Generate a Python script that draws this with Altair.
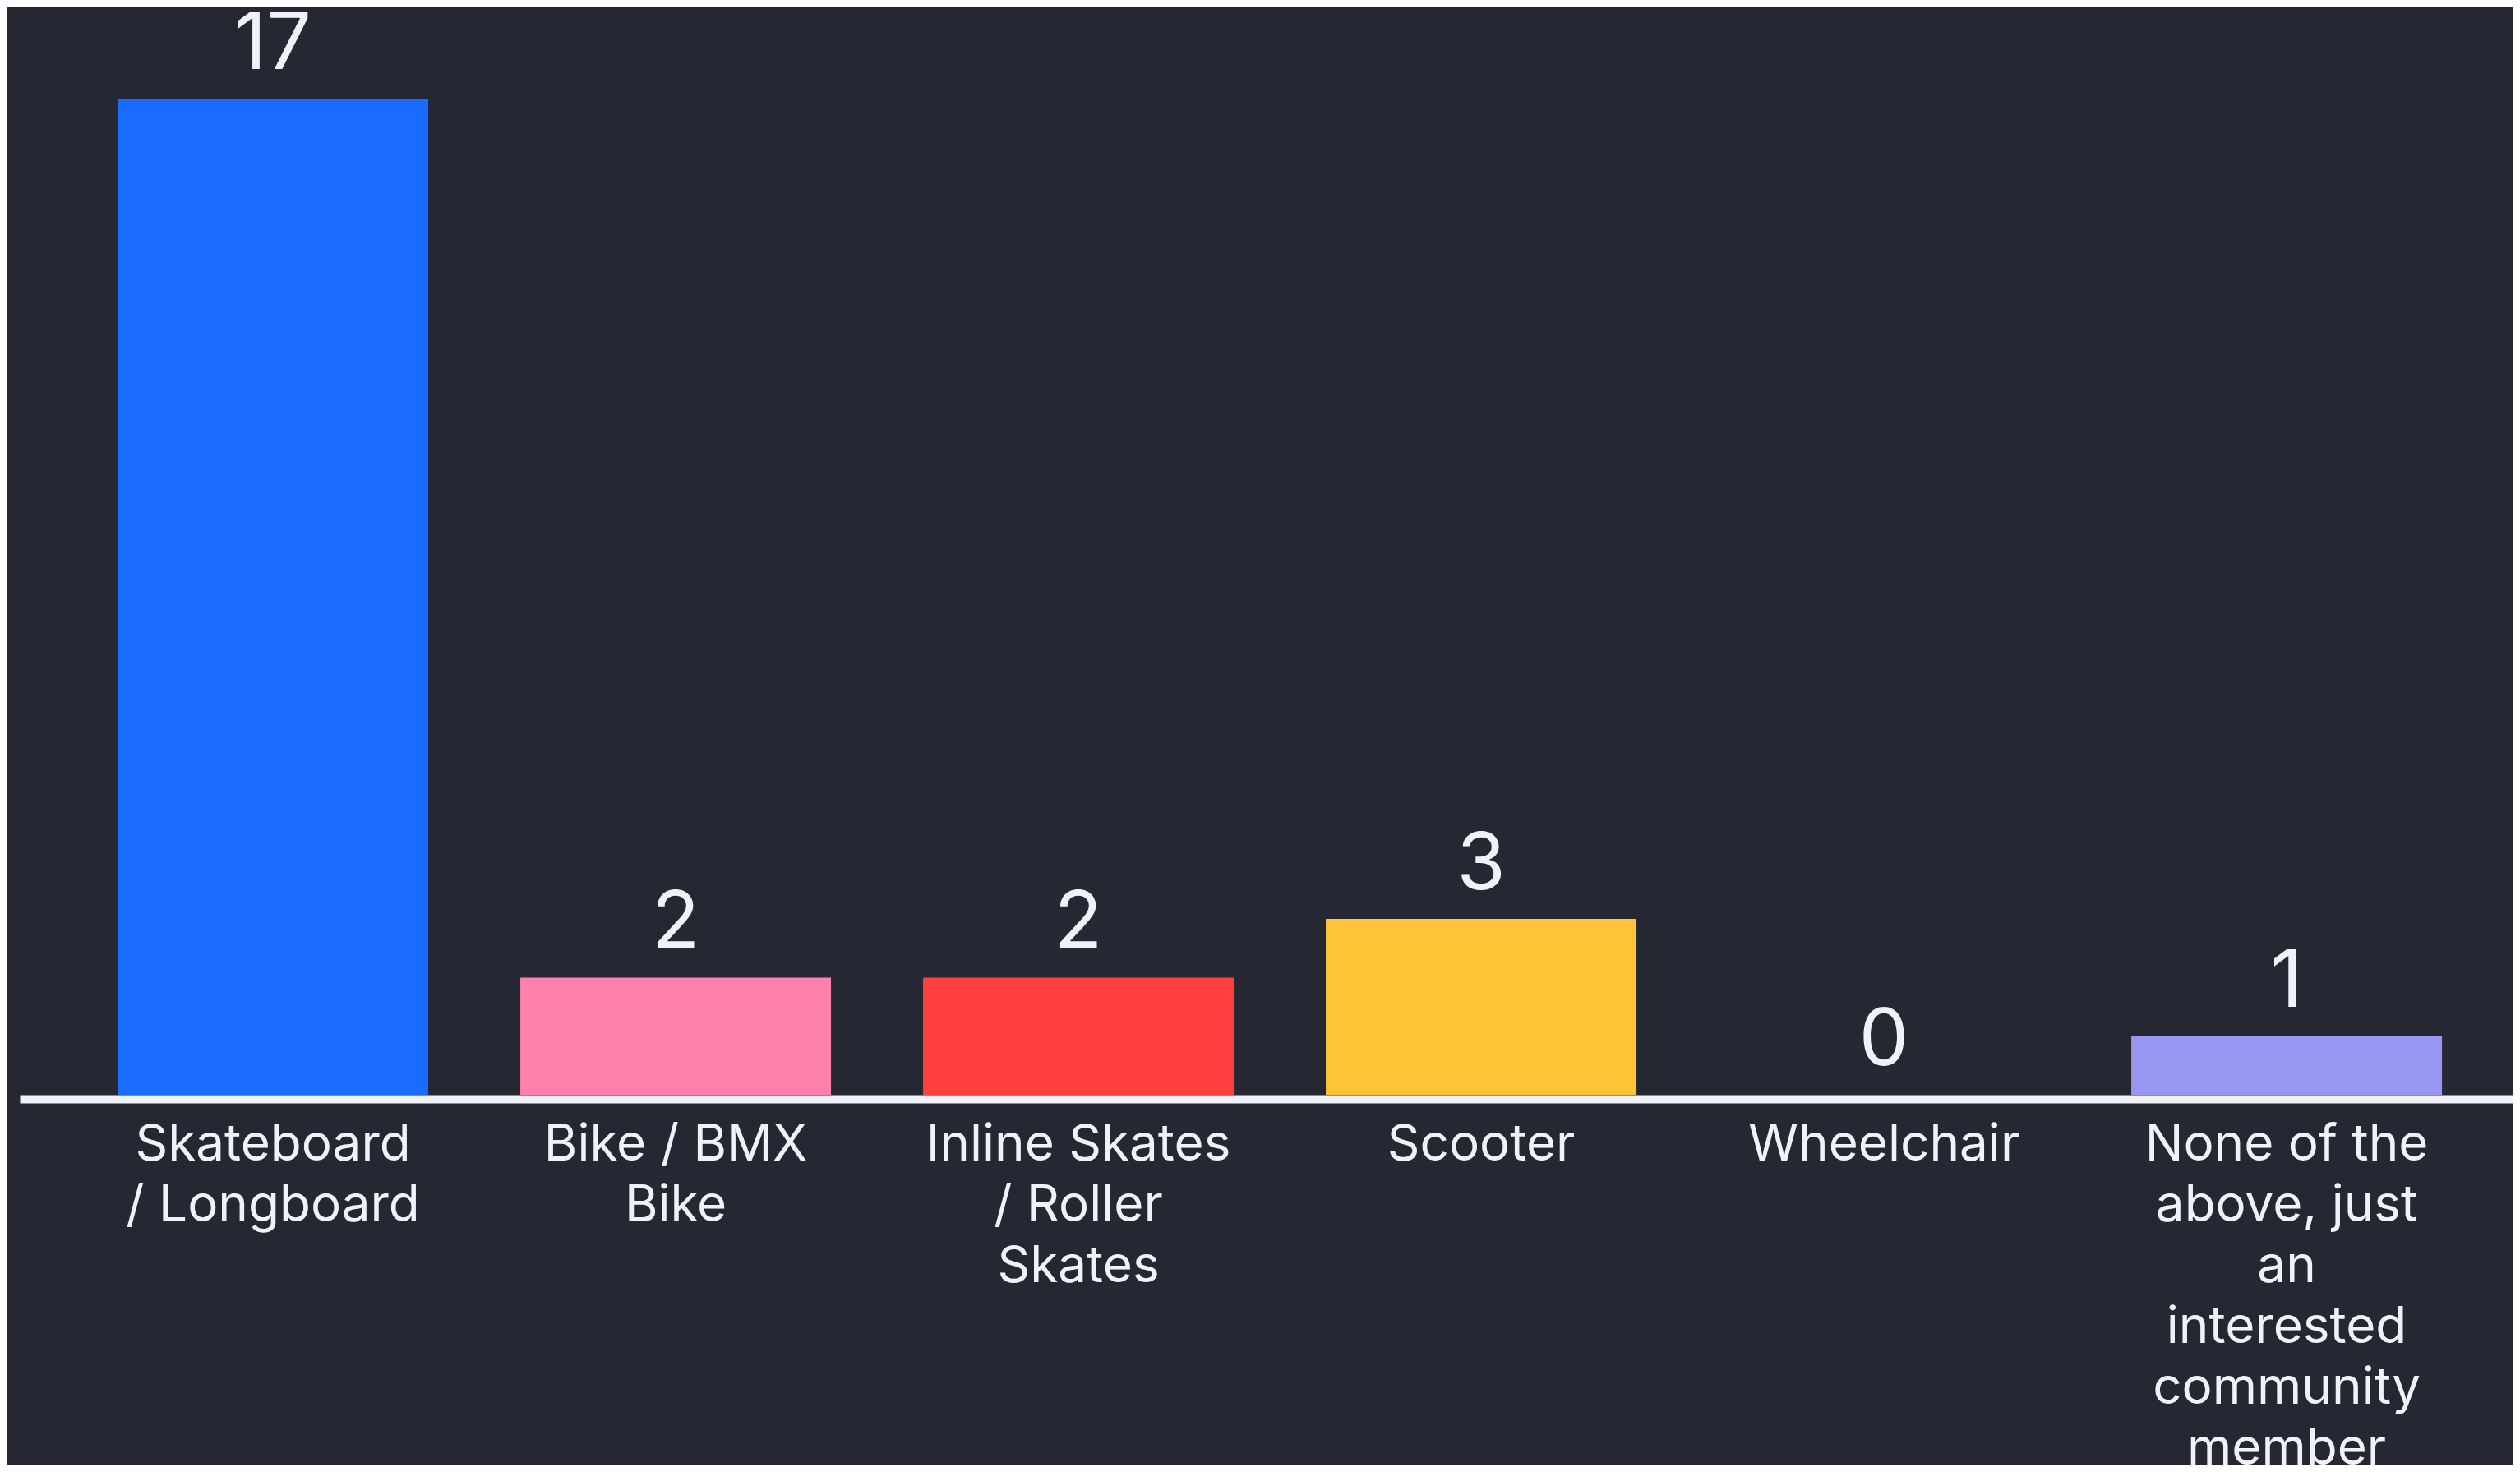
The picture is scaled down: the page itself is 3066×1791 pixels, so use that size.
import altair as alt
import pandas as pd

categories = [
    "Skateboard / Longboard",
    "Bike / BMX Bike",
    "Inline Skates / Roller Skates",
    "Scooter",
    "Wheelchair",
    "None of the above, just an interested community member",
]
label_lines = [
    "Skateboard\n/ Longboard",
    "Bike / BMX\nBike",
    "Inline Skates\n/ Roller\nSkates",
    "Scooter",
    "Wheelchair",
    "None of the\nabove, just\nan\ninterested\ncommunity\nmember",
]
counts = [17, 2, 2, 3, 0, 1]
colors = ["#196CFF", "#FF80AB", "#FF403D", "#FFC337", "#FFFFFF", "#9797F2"]

BG = "#252833"
FG = "#F0F2F7"
FONT = "Inter"

df = pd.DataFrame({"label": label_lines, "count": counts, "category": categories})

x = alt.X(
    "label:N",
    sort=None,
    scale=alt.Scale(paddingInner=0.2286, paddingOuter=0.2102, align=0.578),
    axis=alt.Axis(
        title=None,
        labelAngle=0,
        labelExpr="split(datum.label, '\\n')",
        labelFont=FONT,
        labelFontSize=62,
        labelColor=FG,
        labelLineHeight=74,
        labelPadding=25,
        labelBaseline="top",
        labelAlign="center",
        labelOverlap=False,
        labelLimit=0,
        ticks=False,
        tickSize=0,
        domainColor=FG,
        domainWidth=10,
        domainCap="butt",
        offset=5,
        zindex=2,
    ),
)
y = alt.Y(
    "count:Q",
    scale=alt.Scale(domain=[0, 18.57], nice=False, zero=True),
    axis=None,
)

bars = alt.Chart(df).mark_bar(cornerRadius=0).encode(
    x=x,
    y=y,
    color=alt.Color(
        "label:N",
        sort=None,
        scale=alt.Scale(domain=label_lines, range=colors),
        legend=None,
    ),
)

values = alt.Chart(df).mark_text(
    font=FONT, fontSize=96, color=FG, baseline="alphabetic", dy=-36
).encode(x=x, y=y, text=alt.Text("count:Q"))

chart = (
    alt.layer(bars, values)
    .properties(
        width=3034,
        height=1324,
        background=BG,
        autosize=alt.AutoSizeParams(type="none"),
        padding={"left": 16, "right": 0, "top": 0, "bottom": 451},
    )
    .configure_view(stroke=None)
)

chart.save("out.html", embed_options={"renderer": "svg", "actions": False})
